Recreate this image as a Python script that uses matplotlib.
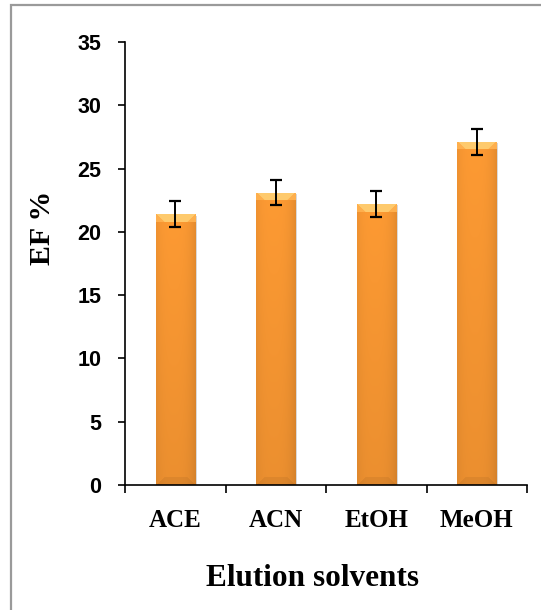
import numpy as np
import matplotlib
matplotlib.use("Agg")
import matplotlib.pyplot as plt
import matplotlib.patheffects as pe
from matplotlib.colors import to_rgb
from matplotlib.patches import Rectangle

# Enrichment factor by elution solvent
solvents = ["ACE", "ACN", "EtOH", "MeOH"]
ef_values = [21.4, 23.1, 22.2, 27.1]
ef_errors = [1.0, 1.0, 1.0, 1.0]
y_ticks = [0, 5, 10, 15, 20, 25, 30, 35]

W, H = 541, 610
fig = plt.figure(figsize=(W / 100, H / 100), dpi=100)
ax = fig.add_axes([125 / W, 1 - 485 / H, (527 - 125) / W, (485 - 42) / H])

x = np.arange(len(solvents))
bar_w = 0.39
base = "#FD9A33"
bars = ax.bar(x, ef_values, width=bar_w, color=base, edgecolor="none", zorder=2,
              path_effects=[pe.SimplePatchShadow(offset=(1.5, -1), shadow_rgbFace="#b5b5b5", alpha=0.5),
                            pe.Normal()])

ax.set_xlim(-0.5, len(solvents) - 0.5)
ax.set_ylim(0, 35)

# shaded fill for each bar: side darkening plus bevelled top and bottom
fig.canvas.draw()
trans = ax.transData
c_base = np.array(to_rgb(base))
c_top = np.array(to_rgb("#FFCB6E"))
c_side_top = np.array(to_rgb("#FFB04E"))
bev = 8.0
for rect in bars:
    x0, y0 = rect.get_x(), rect.get_y()
    x1, y1 = x0 + rect.get_width(), y0 + rect.get_height()
    (px0, py0), (px1, py1) = trans.transform([(x0, y0), (x1, y1)])
    wpx, hpx = int(round(px1 - px0)), int(round(py1 - py0))
    u = (np.arange(wpx) + 0.5)
    v = (np.arange(hpx) + 0.5)
    U, V = np.meshgrid(u, v)  # V measured from top in pixels
    t = U / wpx
    side = 1.0 - 0.10 * (np.abs(t - 0.45) / 0.55) ** 3
    img = c_base[None, None, :] * side[..., None]
    dl, dr = U, wpx - U
    dmin = np.minimum(dl, dr)
    d_top = V
    d_bot = hpx - V
    top_face = (d_top < bev) & (d_top < dmin)
    top_side = (d_top < bev) & ~top_face
    bot_face = (d_bot < bev) & (d_bot < dmin)
    img[top_face] = c_top
    img[top_side] = c_side_top
    img[bot_face] = img[bot_face] * 0.94
    # slightly darker toward the base
    fade = 1.0 - 0.07 * (V / hpx)
    img = np.clip(img * fade[..., None], 0, 1)
    im = ax.imshow(img, extent=(x0, x1, y0, y1), aspect="auto", zorder=2.5,
                   interpolation="bilinear")
    im.set_clip_path(rect)

ax.set_xlim(-0.5, len(solvents) - 0.5)
ax.set_ylim(0, 35)

ax.errorbar(x, ef_values, yerr=ef_errors, fmt="none", ecolor="black",
            elinewidth=1.4, capsize=4.5, capthick=1.6, zorder=4)

for s in ("top", "right"):
    ax.spines[s].set_visible(False)
for s in ("left", "bottom"):
    ax.spines[s].set_linewidth(1.2)
    ax.spines[s].set_color("black")

ax.set_yticks(y_ticks)
ax.set_yticklabels([str(v) for v in y_ticks], fontfamily="Liberation Sans",
                   fontweight="bold", fontsize=15.5)
ax.tick_params(axis="y", direction="out", length=5, width=1.2, pad=12)

ax.set_xticks(x)
ax.set_xticklabels(solvents, fontfamily="Liberation Serif", fontweight="bold",
                   fontsize=18)
ax.set_xticks(np.arange(len(solvents) + 1) - 0.5, minor=True)
ax.tick_params(axis="x", which="major", length=0, pad=17)
ax.tick_params(axis="x", which="minor", direction="out", length=6, width=1.2)

fig.text(42 / W, 1 - 228 / H, "EF %", rotation=90, ha="center", va="center",
         fontfamily="Liberation Serif", fontweight="bold", fontsize=21.5)
fig.text(313 / W, 1 - 578 / H, "Elution solvents", ha="center", va="center",
         fontfamily="Liberation Serif", fontweight="bold", fontsize=22.5)

# outer frame
fig.patches.append(Rectangle((10.5 / W, 0 - 0.05), 1.2, 1 - 4.5 / H + 0.05,
                             transform=fig.transFigure, fill=False,
                             edgecolor="#9a9a9a", linewidth=1.6))

fig.savefig("out.png", dpi=100)
